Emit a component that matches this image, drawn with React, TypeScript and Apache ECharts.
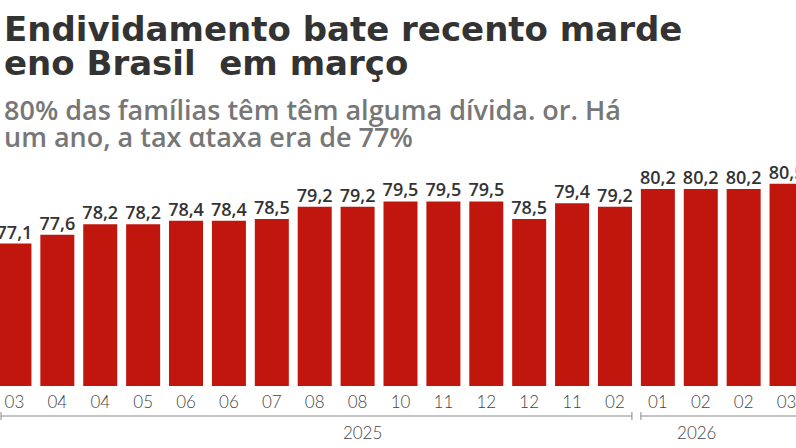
import React, { useEffect, useRef } from "react";
import * as echarts from "echarts";

// Monthly household-debt share (%), March 2025 to March 2026 release series
const months = ["03", "04", "04", "05", "06", "06", "07", "08", "08", "10", "11", "12", "12", "11", "02", "01", "02", "02", "03"];
const debtShare = [77.1, 77.6, 78.2, 78.2, 78.4, 78.4, 78.5, 79.2, 79.2, 79.5, 79.5, 79.5, 78.5, 79.4, 79.2, 80.2, 80.2, 80.2, 80.5];
const years = ["2025", "2026"];
const yearStart = [0, 15];
const yearEnd = [14, 18];

const TITLE = ["Endividamento bate recento marde", "eno Brasil  em março"];
const SUBTITLE = ["80% das famílias têm têm alguma dívida. or. Há", "um ano, a tax αtaxa era de 77%"];

const BAR = "#c0160e";
const INK = "#333333";
const GREY = "#777777";

// The plot bleeds past both edges of the frame, so the canvas is offset
// to the left and clipped by an outer box.
const BLEED = 7;
const FRAME_W = 796;
const FRAME_H = 448;

export default function App() {
  const ref = useRef<HTMLDivElement>(null);

  useEffect(() => {
    if (!ref.current) return;
    const chart = echarts.init(ref.current, undefined, { renderer: "svg" });

    const headerText = (
      lines: string[],
      top: number,
      size: number,
      lh: number,
      weight: number | string,
      color: string,
      family: string
    ) => ({
      type: "text",
      x: BLEED + 4,
      y: top,
      style: {
        text: lines.join("\n"),
        fontFamily: family,
        fontSize: size,
        lineHeight: lh,
        fontWeight: weight,
        fill: color,
        verticalAlign: "top",
      },
    });

    chart.setOption({
      animation: false,
      backgroundColor: "#ffffff",
      grid: { left: 0, width: 815, top: 175, bottom: 62, containLabel: false },
      xAxis: {
        type: "category",
        data: months,
        axisLine: { show: false },
        axisTick: { show: false },
        axisLabel: {
          color: "#444",
          fontFamily: "Lato",
          fontWeight: 300,
          fontSize: 17,
          margin: 7,
          interval: 0,
        },
      },
      yAxis: {
        type: "value",
        min: 69,
        max: 81,
        show: false,
        splitLine: { show: false },
      },
      series: [
        {
          type: "bar",
          data: debtShare,
          barWidth: 34,
          itemStyle: { color: BAR },
          label: {
            show: true,
            position: "top",
            distance: 3,
            color: INK,
            fontFamily: "Open Sans",
            fontWeight: 600,
            fontSize: 18,
            formatter: (p: any) => String(p.value).replace(".", ","),
          },
        },
      ],
    });

    // Year brackets under the month labels, placed from the category axis
    const cx = (i: number) => chart.convertToPixel({ xAxisIndex: 0 }, i) as number;
    const band = cx(1) - cx(0);
    const lineY = 416;
    const rightEdge = BLEED + FRAME_W;
    const bracket: any[] = [];
    const yearLabelAt = [8, 16];
    const yearNudge = [5, -4];
    years.forEach((y, k) => {
      const a = yearStart[k] === 0 ? BLEED + 1 : cx(yearStart[k]) - band / 2 + 4.5;
      const b = yearEnd[k] === months.length - 1 ? rightEdge + 5 : cx(yearEnd[k]) + band / 2 - 4.5;
      const stroke = { stroke: "#8a8a8a", lineWidth: 1 };
      bracket.push({ type: "line", shape: { x1: a, y1: lineY, x2: b, y2: lineY }, style: stroke });
      bracket.push({ type: "line", shape: { x1: a, y1: lineY - 4, x2: a, y2: lineY + 4 }, style: stroke });
      if (b < rightEdge) bracket.push({ type: "line", shape: { x1: b, y1: lineY - 4, x2: b, y2: lineY + 4 }, style: stroke });
      bracket.push({
        type: "text",
        x: cx(yearLabelAt[k]) + yearNudge[k],
        y: 432,
        style: {
          text: y,
          fontFamily: "Lato",
          fontWeight: 300,
          fontSize: 17,
          fill: "#444",
          align: "center",
          verticalAlign: "middle",
        },
      });
    });

    chart.setOption({
      graphic: [
        headerText(TITLE, 12, 34, 34, 700, INK, "DejaVu Sans"),
        headerText(SUBTITLE, 96, 27, 27, 600, GREY, "Open Sans"),
        ...bracket,
      ],
    });

    return () => chart.dispose();
  }, []);

  return (
    <div
      style={{
        position: "absolute",
        left: 0,
        top: 0,
        width: FRAME_W,
        height: FRAME_H,
        overflow: "hidden",
        background: "#fff",
      }}
    >
      <div
        ref={ref}
        style={{ position: "absolute", left: -BLEED, top: 0, width: FRAME_W + 2 * BLEED + 16, height: FRAME_H }}
      />
    </div>
  );
}
